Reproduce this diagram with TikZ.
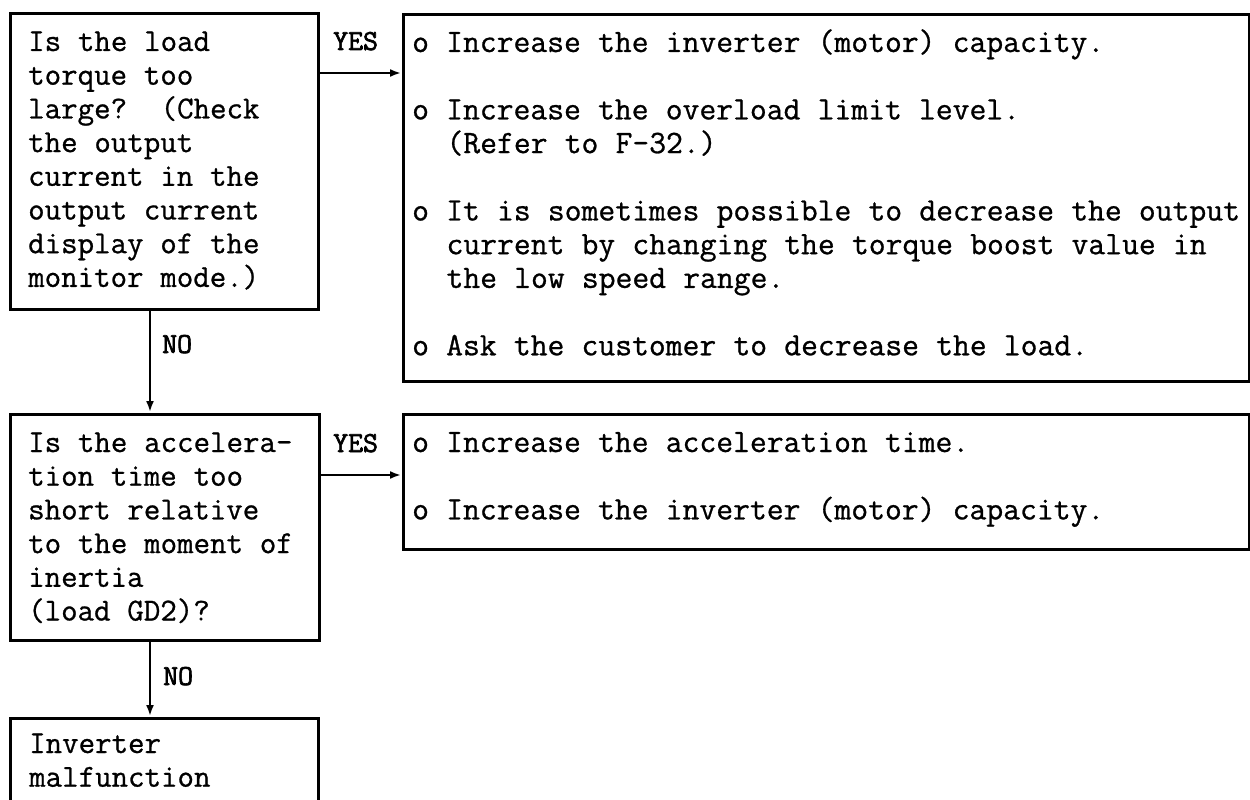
\documentclass[tikz,border=0pt]{standalone}
\usepackage{fontspec}
\newfontfamily\bodymono[FakeBold=0.8]{Latin Modern Mono}
\newfontfamily\tagmono[FakeBold=2.2]{Latin Modern Mono}
\usetikzlibrary{arrows.meta}
\tikzset{
  box/.style={draw, line width=2.6pt, rectangle, inner sep=0pt, anchor=north west},
  txt/.style={anchor=base west, inner sep=0pt, text width=#1, align=left,
    font=\bodymono\fontsize{32}{33.7}\selectfont,
    execute at begin node={\spaceskip=0.525em\relax\xspaceskip=0.525em\relax}},
  wide/.style={font=\bodymono\fontsize{32.7}{33.7}\selectfont},
  tag/.style={anchor=base west, inner sep=0pt,
    font=\tagmono\fontsize{29}{30}\selectfont},
  flow/.style={line width=2pt, -{Latex[length=11pt,width=8pt]}, shorten >=1pt}
}
\newcommand\gap{\\[33.7pt]}
\newcommand\ind{\hspace*{1.05em}}
\begin{document}
\begin{tikzpicture}[x=1pt,y=-1pt]
\useasboundingbox (0,0) rectangle (1250,800);

% decision boxes on the left
\node[box, minimum width=308pt, minimum height=296pt] (A) at (9,12) {};
\node[box, minimum width=309pt, minimum height=226pt] (B) at (9,413) {};
\begin{scope}
  \clip (0,0) rectangle (1250,800);
  \node[box, minimum width=308pt, minimum height=130pt] (C) at (9,717) {};
\end{scope}

% remedy boxes on the right
\node[box, minimum width=846pt, minimum height=367pt] (R1) at (402,13) {};
\node[box, minimum width=846pt, minimum height=135pt] (R2) at (402,413) {};

% box texts
\node[txt=290pt] (Atxt) at (28,51) {Is the load\\torque too\\large?~~(Check\\the output\\current in the\\output current\\display of the\\monitor mode.)};
\node[txt=290pt] (Btxt) at (28,452) {Is the accelera-\\tion time too\\short relative\\to the moment of\\inertia\\(load GD2)?};
\node[txt=290pt] (Ctxt) at (29,753) {Inverter\\malfunction};
\node[txt=830pt, wide] (R1txt) at (412,52) {o Increase the inverter (motor) capacity.\gap
o Increase the overload limit level.\\
\ind(Refer to F-32.)\gap
o It is sometimes possible to decrease the output\\
\ind current by changing the torque boost value in\\
\ind the low speed range.\gap
o Ask the customer to decrease the load.};
\node[txt=830pt, wide] (R2txt) at (412,452) {o Increase the acceleration time.\gap
o Increase the inverter (motor) capacity.};

% branch labels
\node[tag] (yes1) at (333,50) {YES};
\node[tag] (yes2) at (333,452) {YES};
\node[tag] (no1) at (162,353) {NO};
\node[tag] (no2) at (163,685) {NO};

% connectors
\coordinate (ya) at (0,73);
\coordinate (yb) at (0,475);
\coordinate (vx) at (150,0);
\draw[flow] (A.east |- ya) -- (R1.west |- ya);
\draw[flow] (B.east |- yb) -- (R2.west |- yb);
\draw[flow] (A.south -| vx) -- (B.north -| vx);
\draw[flow] (B.south -| vx) -- (C.north -| vx);
\end{tikzpicture}
\end{document}
